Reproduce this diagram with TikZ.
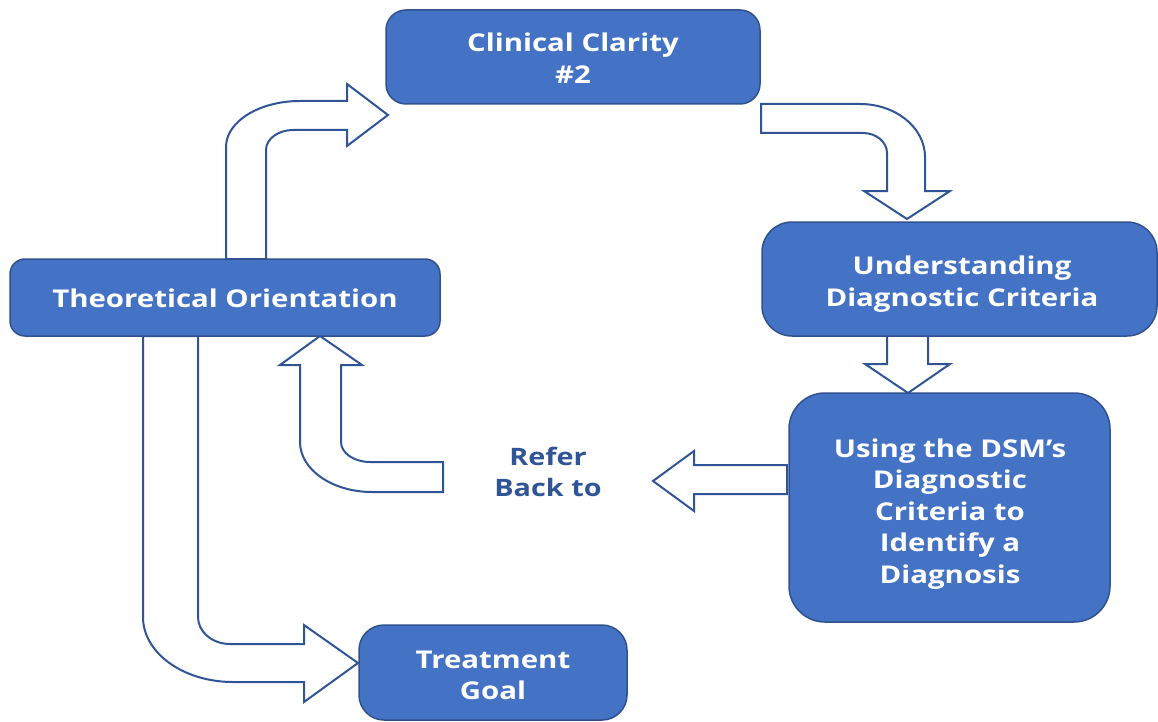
\documentclass[tikz,border=0pt]{standalone}
\usepackage{fontspec}
\setmainfont{Open Sans}[FakeStretch=1.2]
\definecolor{boxblue}{HTML}{4472C4}
\definecolor{boxline}{HTML}{2F528F}
\definecolor{arrline}{HTML}{2F5597}
\begin{document}
\begin{tikzpicture}[x=1pt,y=-1pt,
  box/.style={draw=boxline, line width=1.5pt, fill=boxblue, inner sep=0pt},
  txt/.style={text=white, align=center, font=\fontsize{24.5}{31.5}\selectfont\bfseries, inner sep=0pt},
  blockarrow/.style={draw=arrline, line width=2pt, fill=white, line join=miter},
  lbl/.style={text=arrline, align=center, font=\fontsize{24}{31.5}\selectfont\bfseries}]
\useasboundingbox (0,0) rectangle (1158,722);
% block arrows
\draw[blockarrow] (226,259) -- (226,147) arc[start angle=180,end angle=270,x radius=74,y radius=46]
  -- (347,101) -- (347,84) -- (388,115) -- (347,146) -- (347,130) -- (293,130)
  arc[start angle=270,end angle=180,x radius=27,y radius=20] -- (266,259) -- cycle;
\draw[blockarrow] (761,104) -- (860,104) arc[start angle=270,end angle=360,x radius=65,y radius=53]
  -- (925,191) -- (950,191) -- (907,219) -- (864,191) -- (887,191) -- (887,153)
  arc[start angle=0,end angle=-90,x radius=24,y radius=20] -- (761,133) -- cycle;
\draw[blockarrow] (887,335) -- (887,364) -- (865,364) -- (908,393) -- (950,364) -- (928,364) -- (928,335) -- cycle;
\draw[blockarrow] (787,465) -- (694,465) -- (694,451) -- (653,481) -- (694,511) -- (694,494) -- (787,494) -- cycle;
\draw[blockarrow] (443,462) -- (370,462) arc[start angle=90,end angle=180,x radius=29,y radius=20]
  -- (341,365) -- (362,365) -- (320,336) -- (280,365) -- (300,365) -- (300,442)
  arc[start angle=180,end angle=90,x radius=72,y radius=50] -- (443,492) -- cycle;
\draw[blockarrow] (143,336) -- (143,617) arc[start angle=180,end angle=90,x radius=90,y radius=65]
  -- (304,682) -- (304,702) -- (358,663) -- (304,625) -- (304,644) -- (230,644)
  arc[start angle=90,end angle=180,x radius=32,y radius=27] -- (198,336) -- cycle;
% boxes
\node[box, rounded corners=20pt, minimum width=374pt, minimum height=94pt] (cc) at (573,57) {};
\node[box, rounded corners=30pt, minimum width=395pt, minimum height=114pt] (ud) at (959.5,279) {};
\node[box, rounded corners=36pt, minimum width=321pt, minimum height=229pt] (dsm) at (949.5,507.5) {};
\node[box, rounded corners=15pt, minimum width=430pt, minimum height=77pt] (theo) at (225,297.5) {};
\node[box, rounded corners=25pt, minimum width=268pt, minimum height=95pt] (tg) at (493,672.5) {};
% texts
\node[txt] (cct) at (573,58) {Clinical Clarity\\\#2};
\node[txt] (udt) at (962,284) {Understanding\\Diagnostic Criteria};
\node[txt] (dsmt) at (950,514) {Using the DSM’s\\Diagnostic\\Criteria to\\Identify a\\Diagnosis};
\node[txt] (theot) at (225,298.5) {Theoretical Orientation};
\node[txt] (tgt) at (493,675.5) {Treatment\\Goal};
\node[lbl] (refer) at (548,472) {Refer\\Back to};
\end{tikzpicture}
\end{document}
